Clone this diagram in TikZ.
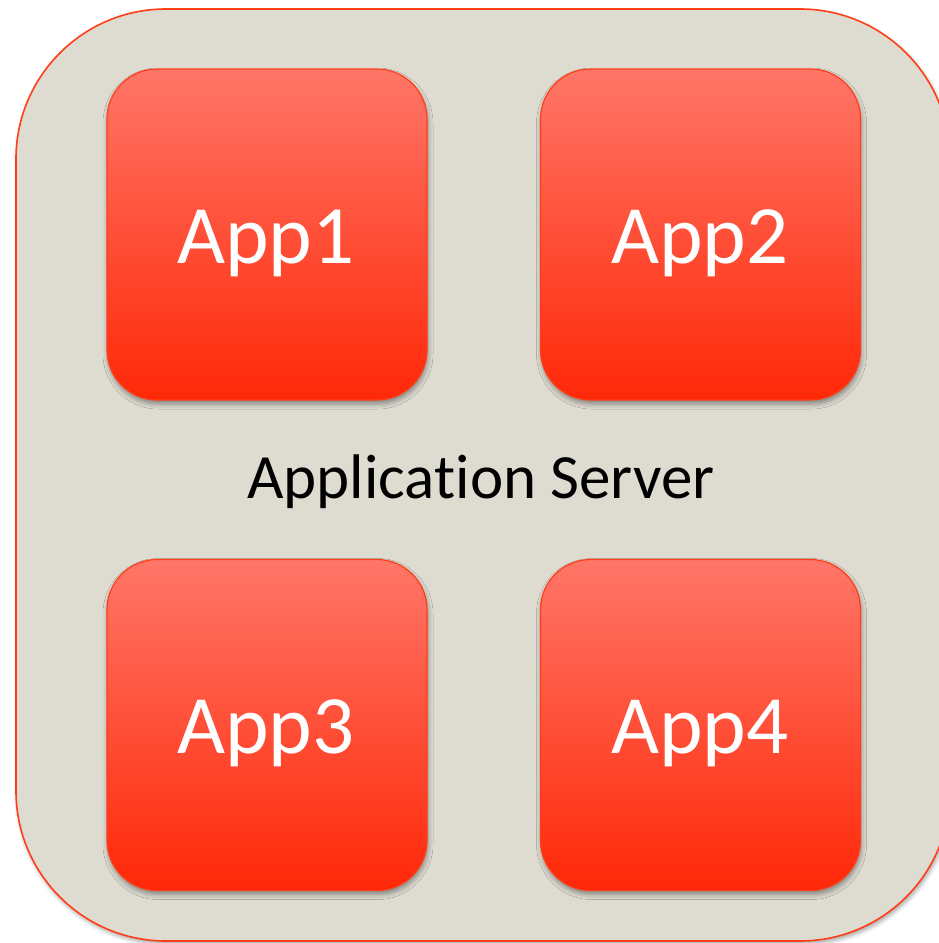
\documentclass[tikz,border=0pt]{standalone}
\usepackage{fontspec}
\setmainfont{Carlito}[Ligatures=NoCommon]
\usetikzlibrary{shadows.blur}
\definecolor{serverbg}{RGB}{222,219,209}
\definecolor{edgered}{RGB}{255,62,24}
\definecolor{apptop}{RGB}{255,118,104}
\definecolor{appbot}{RGB}{255,40,8}
\tikzset{
  server/.style={draw=edgered, line width=1.6pt, fill=serverbg, rounded corners=150pt,
    blur shadow={shadow xshift=1.5pt, shadow yshift=-3pt, shadow blur radius=4pt, shadow opacity=35}},
  appbox/.style={draw=edgered, line width=1.2pt, rounded corners=50pt, top color=apptop, bottom color=appbot,
    minimum width=320pt, minimum height=331pt, inner sep=0pt,
    blur shadow={shadow xshift=1pt, shadow yshift=-4pt, shadow blur radius=5pt, shadow opacity=40}},
  applabel/.style={text=white, font=\fontsize{83}{90}\selectfont, inner sep=0pt, anchor=base},
  serverlabel/.style={text=black, font=\fontsize{63}{70}\selectfont, inner sep=0pt, anchor=base}
}
\begin{document}
\begin{tikzpicture}[x=1pt,y=-1pt]
\useasboundingbox (0,0) rectangle (938,943);
\path[server] (16,9) rectangle (950,941);
\node[appbox] (app1) at (267,234.5) {};
\node[appbox] (app2) at (700.5,234.5) {};
\node[appbox] (app3) at (267,725) {};
\node[appbox] (app4) at (700.5,725) {};
\node[applabel] (t1) at (266,263) {App1};
\node[applabel] (t2) at (700,263) {App2};
\node[applabel] (t3) at (266,753) {App3};
\node[applabel] (t4) at (700,753) {App4};
\node[serverlabel] (srv) at (481,498) {Applicat\kern0pt ion Server};
\end{tikzpicture}
\end{document}
